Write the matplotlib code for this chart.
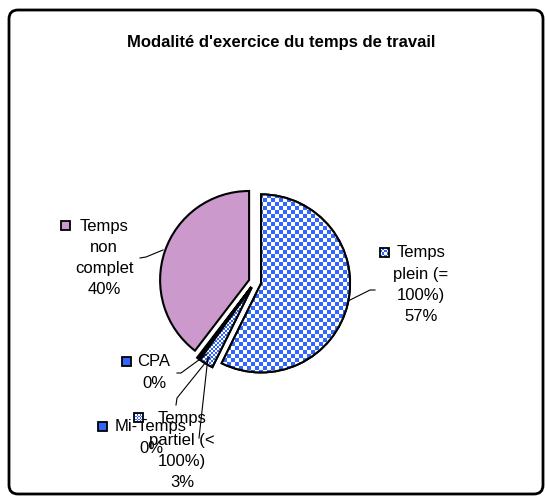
import numpy as np
import matplotlib
matplotlib.use("Agg")
import matplotlib.pyplot as plt
from matplotlib.patches import Rectangle, FancyBboxPatch, Wedge

# ---- data ----
title = "Modalité d'exercice du temps de travail"
categories = ["Temps plein (= 100%)", "Temps partiel (< 100%)", "Mi-Temps", "CPA", "Temps non complet"]
values = [57.3, 2.6, 0.3, 0.2, 39.6]
label_lines = [["Temps", "plein (=", "100%)", "57%"],
               ["Temps", "partiel (<", "100%)", "3%"],
               ["Mi-Temps", "0%"],
               ["CPA", "0%"],
               ["Temps", "non", "complet", "40%"]]

W, H = 546, 496
fig = plt.figure(figsize=(W / 100, H / 100), dpi=100)
ax = fig.add_axes([0, 0, 1, 1])

def Y(y):  # image pixel row -> data y
    return H - y

BLUE = "#3366FF"
PLUM = "#CC99CC"

def checker(cell, n=240):
    idx = np.indices((n, n))
    c = ((idx[0] // cell + idx[1] // cell) % 2).astype(float)
    img = np.ones((n, n, 3))
    b = np.array([0x33, 0x66, 0xFF]) / 255.0
    img[c == 1] = b
    return img

cx, cy, r = 255, Y(282), 89
wedges, _ = ax.pie(values, startangle=90, counterclock=False, center=(cx, cy), radius=r,
                   explode=[0.07 * r] * len(values),
                   colors=[BLUE, BLUE, BLUE, BLUE, PLUM],
                   wedgeprops=dict(edgecolor="black", linewidth=1.5))

patterns = {0: 4, 1: 2}
for i, cell in patterns.items():
    w = wedges[i]
    w.set_facecolor("white")
    im = ax.imshow(checker(cell), extent=(cx - 120, cx + 120, cy - 120, cy + 120),
                   interpolation="nearest", zorder=w.get_zorder() + 0.1)
    im.set_clip_path(w)
    e = Wedge(w.center, w.r, w.theta1, w.theta2, facecolor="none",
              edgecolor="black", linewidth=1.5, zorder=w.get_zorder() + 0.2)
    ax.add_patch(e)

# labels: (center x of text, first line y, key top-left x, key top-left y)
label_pos = [(421, 253, 380, 248),
             (182, 419, 134, 413),
             (151, 427, 98, 422),
             (154, 362, 122, 357),
             (104, 226, 61, 221)]
line_step = 21.3
font = ["Liberation Sans", "DejaVu Sans"]
for i, (tx, ty, kx, ky) in enumerate(label_pos):
    lines = label_lines[i]
    for j, ln in enumerate(lines):
        ax.text(tx, Y(ty + j * line_step), ln, ha="center", va="center",
                fontsize=12, family=font, zorder=10)
    ks = 9
    if i in patterns:
        kr = Rectangle((kx, Y(ky + ks)), ks, ks, facecolor="none",
                       edgecolor="black", linewidth=1.3, zorder=11)
        ax.add_patch(kr)
        im = ax.imshow(checker(3 if i == 0 else 2, 12), extent=(kx, kx + ks, Y(ky + ks), Y(ky)),
                       interpolation="nearest", zorder=10.5)
        im.set_clip_path(kr)
    else:
        kr = Rectangle((kx, Y(ky + ks)), ks, ks, facecolor=BLUE if i != 4 else PLUM,
                       edgecolor="black", linewidth=1.3, zorder=11)
        ax.add_patch(kr)

# leader lines (image pixel coordinates)
leaders = [[(348, 301), (370, 290), (375, 290)],
           [(199, 438), (208, 357)],
           [(176, 405), (177, 398), (210, 357)],
           [(177, 373), (181, 373), (207, 354)],
           [(140, 258), (146, 257), (163, 250)]]
for pts in leaders:
    xs = [p[0] for p in pts]
    ys = [Y(p[1]) for p in pts]
    ax.plot(xs, ys, color="black", linewidth=0.8, zorder=9)

ax.text(281, Y(42), title, ha="center", va="center", fontsize=12,
        fontweight="bold", family=font)

border = FancyBboxPatch((9, Y(494)), 534, 484, boxstyle="round,pad=0,rounding_size=9",
                        facecolor="none", edgecolor="black", linewidth=2, zorder=20)
ax.add_patch(border)

ax.set_xlim(0, W)
ax.set_ylim(0, H)
ax.set_aspect("auto")
ax.axis("off")
fig.savefig("out.png", dpi=100)
